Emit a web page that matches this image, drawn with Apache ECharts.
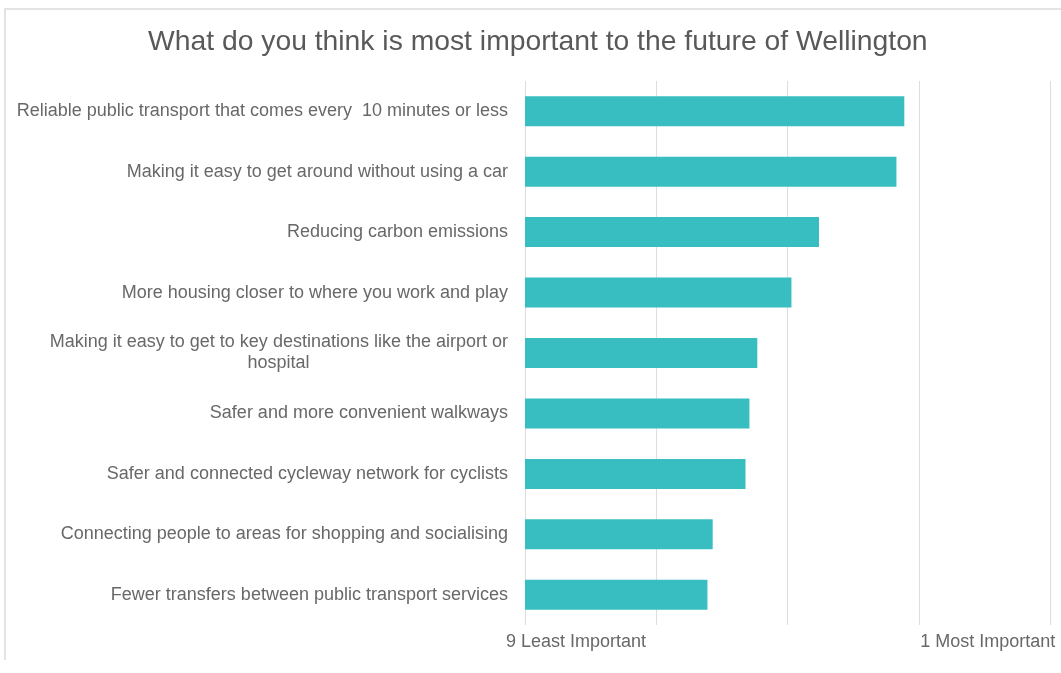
<!DOCTYPE html>
<html>
<head>
<meta charset="utf-8">
<title>What do you think is most important to the future of Wellington</title>
<script src="https://cdn.jsdelivr.net/npm/echarts@6/dist/echarts.min.js"></script>
<style>
  html, body { margin: 0; padding: 0; background: #ffffff; }
  #chart { width: 1061px; height: 673px; }
</style>
</head>
<body>
<div id="chart"></div>
<script>
const chartTitle = 'What do you think is most important to the future of Wellington';

const categories = [
  'Reliable public transport that comes every  10 minutes or less',
  'Making it easy to get around without using a car',
  'Reducing carbon emissions',
  'More housing closer to where you work and play',
  'Making it easy to get to key destinations like the airport or\nhospital',
  'Safer and more convenient walkways',
  'Safer and connected cycleway network for cyclists',
  'Connecting people to areas for shopping and socialising',
  'Fewer transfers between public transport services'
];

const importanceScores = [2.89, 2.83, 2.24, 2.03, 1.77, 1.71, 1.68, 1.43, 1.39];

const tickLabels = ['9 Least Important', '', '', '1 Most Important', ''];

const labelFont = '18px "Liberation Sans", Arial, sans-serif';
const labelColor = '#686868';

// width of a text line in the label font, used to centre wrapped lines
function lineWidth(text) {
  const ctx = document.createElement('canvas').getContext('2d');
  ctx.font = labelFont;
  return Math.ceil(ctx.measureText(text).width);
}

function categoryLabel(value) {
  const lines = value.split('\n');
  if (lines.length === 1) return value;
  const w = lineWidth(lines[0]);
  return lines.map((ln, i) => i === 0 ? '{first|' + ln + '}' : '{rest' + w + '|' + ln + '}').join('\n');
}

const categoryRich = { first: { fontSize: 18, color: labelColor, lineHeight: 21 } };
categories.forEach(c => {
  const lines = c.split('\n');
  if (lines.length > 1) {
    const w = lineWidth(lines[0]);
    categoryRich['rest' + w] = { width: w, align: 'center', fontSize: 18, color: labelColor, lineHeight: 21 };
  }
});

const chart = echarts.init(document.getElementById('chart'), null, { renderer: 'canvas' });

chart.setOption({
  backgroundColor: '#ffffff',
  animation: false,
  textStyle: { fontFamily: '"Liberation Sans", Arial, sans-serif' },
  title: {
    text: chartTitle,
    left: 148,
    top: 28,
    padding: 0,
    textStyle: { fontSize: 28.3, fontWeight: 'normal', color: '#595959' }
  },
  graphic: [{
    type: 'polyline',
    silent: true,
    shape: { points: [[5, 660], [5, 9], [1061, 9]] },
    style: { stroke: '#e4e4e4', lineWidth: 2, fill: null }
  }],
  grid: { left: 525, right: 11, top: 81, bottom: 48, containLabel: false },
  xAxis: {
    type: 'value',
    min: 0,
    max: 4,
    interval: 1,
    axisLine: { show: false },
    axisTick: { show: false },
    splitLine: { show: true, lineStyle: { color: '#dedede', width: 1 } },
    axisLabel: {
      margin: 8,
      align: 'center',
      formatter: function (v) {
        const t = tickLabels[Math.round(v)] || '';
        return t ? '{t' + Math.round(v) + '|' + t + '}' : '';
      },
      rich: {
        t0: { fontSize: 18, color: labelColor, padding: [0, 0, 0, 102] },
        t3: { fontSize: 18, color: labelColor, padding: [0, 0, 0, 138] }
      }
    }
  },
  yAxis: {
    type: 'category',
    inverse: true,
    data: categories,
    axisLine: { show: false },
    axisTick: { show: false },
    axisLabel: {
      margin: 17,
      fontSize: 18,
      color: labelColor,
      lineHeight: 21,
      formatter: categoryLabel,
      rich: categoryRich
    }
  },
  series: [{
    type: 'bar',
    data: importanceScores,
    barWidth: 30,
    itemStyle: { color: '#38bec1' }
  }]
});
</script>
</body>
</html>
